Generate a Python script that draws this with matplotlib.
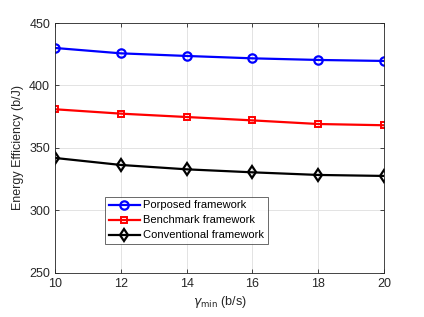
import matplotlib
matplotlib.use("Agg")
import matplotlib.pyplot as plt

x = [10, 12, 14, 16, 18, 20]
proposed = [430.0, 425.7, 423.6, 421.7, 420.4, 419.6]
benchmark = [380.9, 377.4, 374.7, 372.0, 369.1, 368.1]
conventional = [341.9, 336.3, 332.8, 330.4, 328.3, 327.5]
labels = ["Porposed framework", "Benchmark framework", "Conventional framework"]

plt.rcParams['font.family'] = ['Liberation Sans', 'DejaVu Sans']
plt.rcParams['mathtext.fontset'] = 'dejavusans'

fig = plt.figure(figsize=(4.24, 3.17), dpi=100)
ax = fig.add_axes([55/424, 1-272.7/317, (384-55)/424, (272.7-23)/317])

ax.plot(x, proposed, '-o', color='blue', lw=1.6, ms=6, mfc='none', mew=1.6, label=labels[0])
ax.plot(x, benchmark, '-s', color='red', lw=1.6, ms=5, mfc='none', mew=1.4, label=labels[1])
ax.plot(x, conventional, '-d', color='black', lw=1.6, ms=6.5, mfc='none', mew=1.6, label=labels[2])

ax.set_xlim(10, 20)
ax.set_ylim(250, 450)
ax.set_xticks([10, 12, 14, 16, 18, 20])
ax.set_yticks([250, 300, 350, 400, 450])
ax.grid(True, color='#e3e3e3', lw=0.7)
ax.tick_params(direction='in', top=True, right=True, labelsize=9, colors='#262626', length=3, width=0.6)
for s in ax.spines.values():
    s.set_color('#262626')
    s.set_linewidth(0.6)

ax.set_xlabel(r'$\gamma_{\mathrm{min}}$ (b/s)', fontsize=9, color='#262626', labelpad=3)
ax.set_ylabel('Energy Efficiency (b/J)', fontsize=9, color='#262626', labelpad=4)

leg = ax.legend(loc='lower left', bbox_to_anchor=((105-55)/329, (272.7-244.3)/249.7),
                fontsize=8, frameon=True, fancybox=False, edgecolor='#262626',
                borderpad=0.35, labelspacing=0.45, handlelength=2.8, handletextpad=0.3,
                borderaxespad=0)
leg.get_frame().set_linewidth(0.6)

fig.savefig('out.png', dpi=100)
